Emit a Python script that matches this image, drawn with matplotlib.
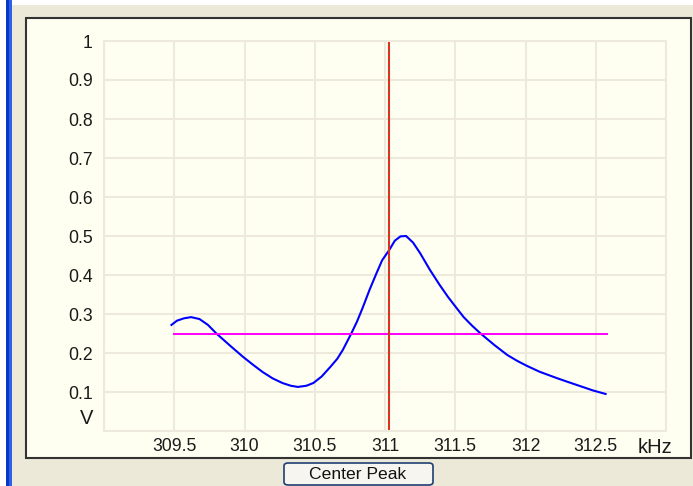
import numpy as np
import matplotlib.pyplot as plt
from matplotlib.patches import Rectangle, FancyBboxPatch


# measured response (kHz, V)
freq = [309.48, 309.52, 309.57, 309.62, 309.68, 309.74, 309.80, 309.90, 309.99,
        310.06, 310.13, 310.20, 310.27, 310.33, 310.38, 310.44, 310.49, 310.55,
        310.61, 310.66, 310.70, 310.76, 310.80, 310.84, 310.89, 310.94, 310.98,
        311.03, 311.07, 311.11, 311.15, 311.20, 311.25, 311.32, 311.39, 311.45,
        311.51, 311.56, 311.62, 311.68, 311.78, 311.87, 311.94, 312.01, 312.10,
        312.22, 312.30, 312.39, 312.48, 312.57]
volts = [0.272, 0.283, 0.289, 0.292, 0.287, 0.272, 0.250, 0.218, 0.190,
         0.170, 0.151, 0.135, 0.123, 0.116, 0.113, 0.116, 0.123, 0.140,
         0.164, 0.185, 0.208, 0.250, 0.280, 0.315, 0.362, 0.405, 0.438,
         0.464, 0.488, 0.499, 0.500, 0.483, 0.456, 0.413, 0.374, 0.343,
         0.315, 0.292, 0.270, 0.250, 0.220, 0.195, 0.180, 0.167, 0.152,
         0.136, 0.126, 0.115, 0.104, 0.095]

marker_freq = 311.03
threshold = 0.25
threshold_span = [309.5, 312.58]

x_ticks = [309.0, 309.5, 310.0, 310.5, 311.0, 311.5, 312.0, 312.5, 313.0]
x_labels = ['', '309.5', '310', '310.5', '311', '311.5', '312', '312.5', '']
y_ticks = [0.0, 0.1, 0.2, 0.3, 0.4, 0.5, 0.6, 0.7, 0.8, 0.9, 1.0]
y_labels = ['', '0.1', '0.2', '0.3', '0.4', '0.5', '0.6', '0.7', '0.8', '0.9', '1']

plt.rcParams['font.family'] = ['Liberation Sans', 'DejaVu Sans']

W, H = 693, 486
fig = plt.figure(figsize=(W / 100, H / 100), dpi=100, facecolor='#ECE9D8')


def fx(x):
    return x / W


def fy(y):
    return 1 - y / H


def add_rect(x0, y0, x1, y1, **kw):
    # rectangle given in pixel coords (top-left origin)
    r = Rectangle((fx(x0), fy(y1)), fx(x1 - x0), (y1 - y0) / H,
                  transform=fig.transFigure, zorder=-2, **kw)
    fig.patches.append(r)


# window decoration
add_rect(0, 0, 6, H, facecolor='white', edgecolor='none')
add_rect(6, 0, 9, H, facecolor='#0B35C8', edgecolor='none')
add_rect(9, 0, 12, H, facecolor='#2C62E6', edgecolor='none')
add_rect(12, 0, W, 5, facecolor='white', edgecolor='none')

# chart panel
add_rect(26, 18, 691, 458, facecolor='#FEFEF1', edgecolor='#333333', linewidth=1.5)

ax = fig.add_axes([fx(104), fy(431), fx(562), 390 / H])
ax.set_zorder(1)
ax.set_facecolor('#FEFEF1')
ax.set_xlim(309, 313)
ax.set_ylim(0, 1)
ax.set_xticks(x_ticks)
ax.set_xticklabels(x_labels)
ax.set_yticks(y_ticks)
ax.set_yticklabels(y_labels)
ax.tick_params(length=0, labelsize=12.7, colors='#1a1a1a')
ax.tick_params(axis='y', pad=8)
ax.tick_params(axis='x', pad=5)
ax.grid(True, color='#EEEADB', linewidth=1.5)
ax.set_axisbelow(True)
for s in ax.spines.values():
    s.set_color('#EEEADB')
    s.set_linewidth(1.5)

ax.plot(freq, volts, color='#0000FF', linewidth=1.5)
ax.plot(threshold_span, [threshold, threshold], color='#FF00FF', linewidth=1.4)
ax.axvline(marker_freq, color='#FF2020', linewidth=1.5)
ax.axvline(marker_freq, color='#2E8B2E', linewidth=0.6, linestyle=(0, (3, 3)))

fig.text(fx(655), fy(447), 'kHz', fontsize=14.5, ha='center', va='center', color='#1a1a1a')
fig.text(fx(87), fy(418), 'V', fontsize=14.5, ha='center', va='center', color='#1a1a1a')

# button
fig.patches.append(FancyBboxPatch((fx(284), fy(485)), fx(149), 22 / H,
                                  boxstyle='round,pad=0,rounding_size=0.006',
                                  transform=fig.transFigure, facecolor='#F6F5F0',
                                  edgecolor='#1F3F72', linewidth=1.2))
fig.text(fx(358), fy(474), 'Center Peak', fontsize=12.6, ha='center', va='center',
         color='#111111')

fig.savefig('out.png', dpi=100, facecolor=fig.get_facecolor())
